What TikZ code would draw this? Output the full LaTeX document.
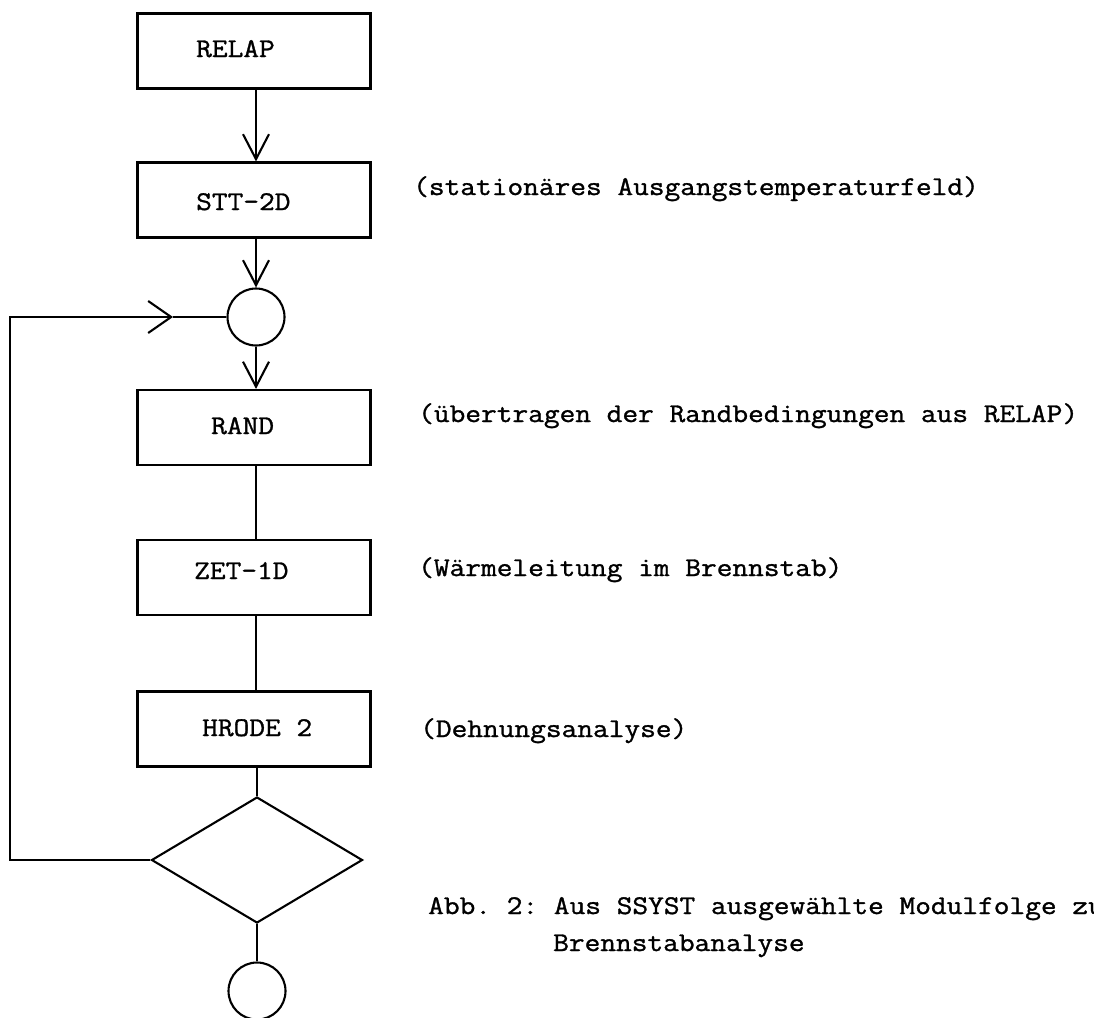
\documentclass[tikz,border=0pt]{standalone}
\usepackage{fontspec}
\setmonofont{Latin Modern Mono}[FakeStretch=1.13,FakeBold=1.2]
\usetikzlibrary{shapes.geometric,arrows.meta}
\tikzset{
  flowbox/.style={draw, line width=2.1pt, rectangle, minimum width=233pt, minimum height=75pt, inner sep=0pt},
  conn/.style={draw, line width=2.1pt, shape=circle, minimum size=57pt, inner sep=0pt},
  decide/.style={draw, line width=2.1pt, shape=diamond, minimum width=211pt, minimum height=126pt, inner sep=0pt},
  txt/.style={anchor=base west, inner sep=0pt, font=\ttfamily\fontsize{27}{37}\selectfont},
  link/.style={line width=2.1pt},
  varr/.style={line width=2.1pt, -{Straight Barb[length=25pt,width=26pt,line width=2.1pt]}},
  harr/.style={line width=2.1pt, -{Straight Barb[length=23pt,width=32pt,line width=2.1pt]}}
}
\begin{document}
\begin{tikzpicture}[x=1pt,y=-1pt]
\useasboundingbox (0,0) rectangle (1094,1017);
% boxes
\node[flowbox] (relap) at (254,51) {};
\node[flowbox] (stt) at (254,200) {};
\node[conn] (c1) at (256,317) {};
\node[flowbox] (rand) at (254,427.5) {};
\node[flowbox] (zet) at (254,577.5) {};
\node[flowbox] (hrode) at (254,729) {};
\node[decide] (dia) at (257,860) {};
\node[conn] (c2) at (257,991) {};
% box texts
\node[txt] (relapt) at (196,57) {RELAP};
\node[txt] (sttt) at (196,210) {STT-2D};
\node[txt] (randt) at (211,434) {RAND};
\node[txt] (zett) at (194,579) {ZET-1D};
\node[txt] (hrodet) at (202,736) {HRODE 2};
% descriptions
\node[txt] (d1) at (413,195) {(stationäres Ausgangstemperaturfeld)};
\node[txt] (d2) at (418,422) {(übertragen der Randbedingungen aus RELAP)};
\node[txt] (d3) at (418,576) {(Wärmeleitung im Brennstab)};
\node[txt] (d4) at (420,737) {(Dehnungsanalyse)};
\node[txt] (cap1) at (428,914) {Abb. 2: Aus SSYST ausgewählte Modulfolge zu};
\node[txt] (cap2) at (553,951) {Brennstabanalyse};
% connectors
\draw[varr] (relap.south -| 256,0) -- (stt.north -| 256,0);
\draw[varr] (stt.south -| 256,0) -- (c1.north);
\draw[varr] (c1.south) -- (rand.north -| 256,0);
\draw[link] (rand.south -| 256,0) -- (zet.north -| 256,0);
\draw[link] (zet.south -| 256,0) -- (hrode.north -| 256,0);
\draw[link] (hrode.south -| 257,0) -- (dia.north);
\draw[link] (dia.south) -- (c2.north);
% loop back
\coordinate (lb) at (10,860);
\coordinate (lt) at (10,317);
\coordinate (lm) at (173,317);
\draw[harr] (dia.west) -- (lb) -- (lt) -- (lm);
\draw[link] (lm) -- (c1.west);
\end{tikzpicture}
\end{document}
